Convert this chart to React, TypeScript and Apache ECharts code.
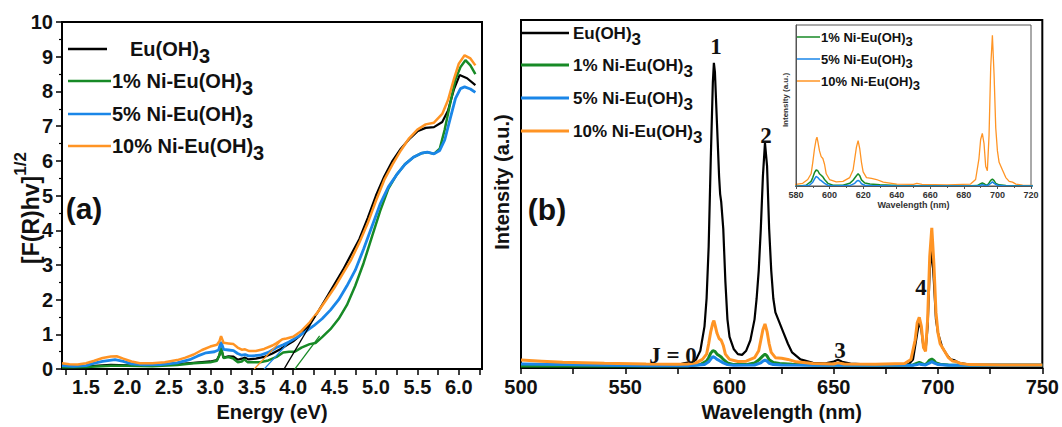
import React, { useEffect, useRef } from "react";
import * as echarts from "echarts";

// ---------- panel (a): Tauc plot, [F(R)hv]^1/2 vs energy (eV) ----------
const energyPure: number[][] = [
  [1.21, 0.1], [1.5, 0.08], [1.8, 0.12], [2.1, 0.1], [2.5, 0.12], [2.8, 0.18], [3.0, 0.22],
  [3.08, 0.26], [3.11, 0.4], [3.13, 0.6], [3.16, 0.33], [3.22, 0.37], [3.28, 0.36], [3.33, 0.27],
  [3.38, 0.3], [3.42, 0.33], [3.46, 0.28], [3.55, 0.3], [3.65, 0.35], [3.75, 0.45], [3.85, 0.58],
  [3.93, 0.7], [4.0, 0.8], [4.1, 1.0], [4.2, 1.3], [4.3, 1.65], [4.4, 2.05], [4.5, 2.45],
  [4.6, 2.85], [4.7, 3.3], [4.8, 3.75], [4.9, 4.35], [5.0, 5.0], [5.1, 5.55], [5.2, 6.0],
  [5.3, 6.35], [5.4, 6.62], [5.5, 6.85], [5.6, 6.95], [5.7, 6.97], [5.8, 7.12], [5.87, 7.45],
  [5.94, 8.05], [6.01, 8.47], [6.1, 8.38], [6.2, 8.18],
];
const energyNi1: number[][] = [
  [1.21, 0.05], [1.5, 0.06], [1.8, 0.1], [2.0, 0.1], [2.3, 0.08], [2.6, 0.12], [2.8, 0.17],
  [3.0, 0.2], [3.08, 0.24], [3.11, 0.4], [3.13, 0.62], [3.16, 0.32], [3.22, 0.35], [3.28, 0.3],
  [3.33, 0.2], [3.38, 0.22], [3.41, 0.28], [3.45, 0.2], [3.5, 0.2], [3.6, 0.2], [3.7, 0.25],
  [3.8, 0.35], [3.88, 0.48], [3.95, 0.5], [4.02, 0.5], [4.1, 0.62], [4.2, 0.72], [4.27, 0.75],
  [4.35, 0.92], [4.45, 1.15], [4.55, 1.45], [4.65, 1.85], [4.75, 2.4], [4.85, 3.05], [4.95, 3.8],
  [5.05, 4.55], [5.15, 5.2], [5.25, 5.6], [5.35, 5.9], [5.45, 6.1], [5.55, 6.22], [5.62, 6.25],
  [5.7, 6.2], [5.77, 6.35], [5.83, 6.9], [5.9, 7.7], [5.96, 8.35], [6.02, 8.7], [6.08, 8.9],
  [6.14, 8.75], [6.2, 8.5],
];
const energyNi5: number[][] = [
  [1.21, 0.1], [1.35, 0.08], [1.5, 0.1], [1.6, 0.17], [1.7, 0.22], [1.85, 0.27], [1.95, 0.22],
  [2.05, 0.15], [2.2, 0.12], [2.4, 0.13], [2.6, 0.18], [2.75, 0.27], [2.85, 0.38], [2.95, 0.47],
  [3.05, 0.5], [3.1, 0.55], [3.13, 0.78], [3.16, 0.57], [3.22, 0.55], [3.28, 0.53], [3.33, 0.45],
  [3.38, 0.4], [3.42, 0.42], [3.46, 0.38], [3.5, 0.38], [3.6, 0.4], [3.7, 0.48], [3.8, 0.62],
  [3.88, 0.7], [3.95, 0.78], [4.05, 0.92], [4.15, 1.08], [4.25, 1.25], [4.35, 1.45], [4.45, 1.7],
  [4.55, 2.0], [4.65, 2.4], [4.75, 2.85], [4.85, 3.45], [4.95, 4.1], [5.05, 4.75], [5.15, 5.25],
  [5.25, 5.6], [5.35, 5.9], [5.45, 6.1], [5.55, 6.22], [5.62, 6.25], [5.7, 6.2], [5.77, 6.3],
  [5.83, 6.6], [5.9, 7.25], [5.96, 7.8], [6.02, 8.08], [6.07, 8.13], [6.14, 8.07], [6.2, 7.97],
];
const energyNi10: number[][] = [
  [1.21, 0.17], [1.3, 0.14], [1.4, 0.13], [1.5, 0.17], [1.6, 0.24], [1.7, 0.32], [1.8, 0.36],
  [1.87, 0.37], [1.95, 0.3], [2.05, 0.22], [2.15, 0.17], [2.3, 0.17], [2.45, 0.2], [2.6, 0.26],
  [2.7, 0.33], [2.8, 0.42], [2.9, 0.55], [3.0, 0.65], [3.08, 0.7], [3.11, 0.8], [3.13, 0.95],
  [3.16, 0.76], [3.22, 0.74], [3.28, 0.72], [3.33, 0.62], [3.38, 0.56], [3.42, 0.57], [3.47, 0.52],
  [3.55, 0.52], [3.65, 0.58], [3.75, 0.68], [3.8, 0.75], [3.87, 0.86], [3.92, 0.88], [4.0, 0.93],
  [4.1, 1.1], [4.2, 1.35], [4.3, 1.65], [4.4, 2.0], [4.5, 2.35], [4.6, 2.75], [4.7, 3.15],
  [4.8, 3.65], [4.9, 4.2], [5.0, 4.85], [5.1, 5.45], [5.2, 5.9], [5.3, 6.3], [5.4, 6.65],
  [5.5, 6.9], [5.6, 7.05], [5.7, 7.1], [5.8, 7.35], [5.87, 7.75], [5.94, 8.35], [6.0, 8.8],
  [6.07, 9.04], [6.14, 8.95], [6.2, 8.75],
];
// band-gap extrapolation lines (x-intercept to the absorption edge)
const tangentPure: number[][] = [[3.89, 0], [4.27, 1.53]];
const tangentNi1: number[][] = [[4.02, 0], [4.32, 0.96]];
const tangentNi5: number[][] = [[3.65, 0], [3.95, 0.78]];
const tangentNi10: number[][] = [[3.53, 0], [3.87, 0.86]];

const energyTicks = [1.25, 1.5, 1.75, 2.0, 2.25, 2.5, 2.75, 3.0, 3.25, 3.5, 3.75, 4.0, 4.25, 4.5, 4.75, 5.0, 5.25, 5.5, 5.75, 6.0, 6.25];
const energyLabels = [1.5, 2.0, 2.5, 3.0, 3.5, 4.0, 4.5, 5.0, 5.5, 6.0];

// ---------- panel (b): emission spectra, intensity vs wavelength (nm) ----------
const wavePure: number[][] = [
  [500, 1.0], [520, 0.9], [540, 0.8], [560, 0.8], [575, 0.9], [578, 1.4], [580, 1.6], [582, 1.5],
  [584, 2.5], [586, 5], [588, 12], [589, 20], [590, 35], [591, 60], [592, 82], [592.5, 87.7],
  [593, 85], [594, 70], [595, 55], [595.5, 50], [596, 47.8], [597, 40], [598, 25], [599, 14],
  [600, 9], [602, 5.5], [604, 4], [606, 3.8], [608, 5], [610, 8], [612, 14], [613, 20], [614, 28],
  [615, 40], [616, 55], [617, 64.7], [618, 58], [619, 40], [620, 28], [621, 20], [622, 16],
  [624, 13], [626, 10], [628, 7], [630, 4.5], [634, 2.5], [640, 1.5], [646, 1.4], [650, 1.9],
  [652, 2.4], [654, 1.8], [658, 1.3], [665, 1.1], [680, 1.0], [686, 1.2], [688, 2.5], [690, 10],
  [691, 13.5], [692, 11], [693, 6], [694, 5], [695, 12], [696, 28], [697, 34.3], [698, 25],
  [699, 14], [700, 10], [702, 6], [704, 4], [706, 2.5], [708, 2.2], [710, 1.5], [715, 1.0],
  [730, 0.9], [750, 0.9],
];
const waveNi1: number[][] = [
  [500, 0.6], [540, 0.6], [580, 0.7], [586, 1], [589, 2], [590, 3], [591, 4.3], [592, 5],
  [593, 4.8], [594, 4], [595, 3.6], [596, 3.2], [597, 2.5], [599, 1.5], [602, 1.0], [608, 1.0],
  [612, 1.5], [614, 2.3], [616, 3.5], [617, 4], [618, 3.5], [619, 2.4], [621, 1.6], [624, 1.3],
  [630, 1.1], [640, 0.9], [680, 0.8], [688, 0.9], [690, 1.4], [691, 1.6], [692, 1.4], [693, 1.1],
  [694, 1.0], [695, 1.6], [696, 2.3], [697, 2.6], [698, 2.2], [699, 1.5], [701, 1.1], [705, 0.9],
  [720, 0.8], [750, 0.8],
];
const waveNi5: number[][] = [
  [500, 1.2], [520, 1.0], [540, 0.8], [560, 0.7], [580, 0.7], [588, 1.0], [590, 1.8], [591, 2.6],
  [592, 3.3], [593, 3], [594, 2.5], [595, 2.2], [597, 1.5], [599, 1.0], [602, 0.8], [612, 0.9],
  [615, 1.5], [616, 2.0], [617, 2.3], [618, 2], [619, 1.4], [621, 1.0], [625, 0.9], [640, 0.8],
  [688, 0.8], [690, 1.0], [691, 1.2], [692, 1.0], [694, 0.9], [696, 1.5], [697, 1.9], [698, 1.5],
  [700, 1.0], [705, 0.8], [750, 0.8],
];
const waveNi10: number[][] = [
  [500, 2.3], [510, 2.0], [520, 1.7], [540, 1.4], [560, 1.2], [575, 1.1], [580, 1.2], [584, 1.5],
  [587, 2.5], [589, 4], [590, 7], [591, 10.5], [592, 13], [592.5, 13.6], [593, 12.5], [594, 10],
  [595, 8.5], [596, 8], [597, 6.5], [598, 4], [600, 2.5], [604, 1.9], [608, 2], [612, 3], [614, 5],
  [615, 8], [616, 11], [617, 12.7], [618, 10.5], [619, 7], [620, 4.5], [622, 3], [625, 2.8],
  [628, 2.5], [632, 1.8], [640, 1.3], [650, 1.2], [652, 1.5], [655, 1.2], [670, 1.1], [684, 1.3],
  [687, 2.5], [689, 8], [690, 13], [691, 14.6], [692, 12], [693, 6], [694, 4.8], [695, 14],
  [696, 32], [697, 40.3], [698, 30], [699, 16], [700, 10], [701, 7], [703, 5], [705, 3], [707, 2],
  [709, 1.8], [711, 1.3], [715, 1.0], [730, 0.9], [750, 0.9],
];
const waveTicks = [500, 525, 550, 575, 600, 625, 650, 675, 700, 725, 750];
const waveLabels = [500, 550, 600, 650, 700, 750];

const seriesNames = ["Eu(OH)", "1% Ni-Eu(OH)", "5% Ni-Eu(OH)", "10% Ni-Eu(OH)"];
const COLORS = ["#000000", "#178a26", "#1a86e8", "#ff9424"];

const SANS = "'Liberation Sans', Arial, sans-serif";
const SERIF = "'Liberation Serif', 'Times New Roman', serif";

// legend entry: a short line plus "name" with a subscript 3
function legendEntry(x1: number, x2: number, y: number, tx: number, name: string, color: string, fs: number, drop: number, lw: number) {
  return [
    { type: "line", z: 20, shape: { x1, y1: y, x2, y2: y }, style: { stroke: color, lineWidth: lw } },
    {
      type: "text", z: 20, x: tx, y: y - fs / 2,
      style: {
        text: `{m|${name}}{s|3}`, align: "left", verticalAlign: "top", fill: "#111",
        rich: {
          m: { fontSize: fs, fontWeight: "bold", fontFamily: SANS, lineHeight: fs, verticalAlign: "top", fill: "#111" },
          s: { fontSize: fs, fontWeight: "bold", fontFamily: SANS, lineHeight: fs + 2 * drop, verticalAlign: "middle", fill: "#111" },
        },
      },
    },
  ];
}

function label(x: number, y: number, text: string, fs: number, family: string, rotation = 0, fill = "#111") {
  return {
    type: "text", z: 20, x, y, rotation,
    style: { text, fontSize: fs, fontWeight: "bold", fontFamily: family, fill, align: "center", verticalAlign: "middle" },
  };
}

export default function App() {
  const ref = useRef<HTMLDivElement>(null);

  useEffect(() => {
    if (!ref.current) return;
    const chart = echarts.init(ref.current, undefined, { renderer: "svg" });

    const axisText = { fontSize: 20, fontWeight: "bold", color: "#111", fontFamily: SANS };
    const line = (name: string, data: number[][], color: string, width: number, xi: number, yi: number, z = 2) => ({
      type: "line", name, data, xAxisIndex: xi, yAxisIndex: yi, showSymbol: false, symbol: "none",
      lineStyle: { color, width }, itemStyle: { color }, z, silent: true,
    });

    const graphics: any[] = [
      // panel (a) legend
      ...legendEntry(68, 107, 49, 130, seriesNames[0], COLORS[0], 20, 7, 2.5),
      ...legendEntry(68, 111, 81, 112, seriesNames[1], COLORS[1], 20, 7, 2.5),
      ...legendEntry(68, 111, 114, 112, seriesNames[2], COLORS[2], 20, 7, 2.5),
      ...legendEntry(68, 111, 146, 112, seriesNames[3], COLORS[3], 20, 7, 2.5),
      // panel (b) legend
      ...legendEntry(521, 569, 33, 573, seriesNames[0], COLORS[0], 17, 6, 2.5),
      ...legendEntry(521, 569, 65, 573, seriesNames[1], COLORS[1], 17, 6, 3),
      ...legendEntry(521, 569, 98, 573, seriesNames[2], COLORS[2], 17, 6, 3),
      ...legendEntry(521, 569, 131, 573, seriesNames[3], COLORS[3], 17, 6, 3),
      // inset legend
      ...legendEntry(797, 820, 37, 821, seriesNames[1], COLORS[1], 13, 4, 1.5),
      ...legendEntry(797, 820, 59, 821, seriesNames[2], COLORS[2], 13, 4, 1.5),
      ...legendEntry(797, 820, 81, 821, seriesNames[3], COLORS[3], 13, 4, 1.5),
      // panel tags and transition labels
      label(84, 208, "(a)", 30, SANS),
      label(547, 209, "(b)", 30, SANS),
      label(716, 46, "1", 23, SERIF),
      label(766, 135, "2", 23, SERIF),
      label(840, 350, "3", 23, SERIF),
      label(921, 287, "4", 23, SERIF),
      label(673, 355, "J = 0", 23, SERIF),
      // y-axis titles
      {
        type: "text", z: 20, x: 27, y: 208, rotation: Math.PI / 2,
        style: {
          text: "{m|[F(R)hv]}{p|1/2}", align: "center", verticalAlign: "middle", fill: "#111",
          rich: {
            m: { fontSize: 23, fontWeight: "bold", fontFamily: SANS, lineHeight: 30, verticalAlign: "bottom", fill: "#111" },
            p: { fontSize: 17, fontWeight: "bold", fontFamily: SANS, lineHeight: 17, verticalAlign: "top", fill: "#111" },
          },
        },
      },
      label(502, 182, "Intensity (a.u.)", 20, SANS, Math.PI / 2),
      label(785, 100, "Intensity (a.u.)", 8, SANS, Math.PI / 2, "#333"),
    ];

    const option: any = {
      animation: false,
      backgroundColor: "#fff",
      grid: [
        { left: 62, top: 22, width: 420, height: 348, show: true, borderColor: "#000", borderWidth: 2, backgroundColor: "transparent" },
        { left: 521, top: 20, width: 523, height: 355, show: true, borderColor: "#000", borderWidth: 2, backgroundColor: "transparent" },
        { left: 796, top: 25, width: 235, height: 161, show: true, borderColor: "#555", borderWidth: 1, backgroundColor: "#fff", z: 5 },
      ],
      xAxis: [
        {
          gridIndex: 0, type: "value", min: 1.21, max: 6.28,
          axisLine: { lineStyle: { color: "#000", width: 2 } },
          axisTick: { length: 6, lineStyle: { color: "#000", width: 1.5 }, customValues: energyTicks },
          axisLabel: { ...axisText, margin: 8, customValues: energyLabels, formatter: (v: number) => v.toFixed(1) },
          splitLine: { show: false },
          name: "Energy (eV)", nameLocation: "middle", nameGap: 31, nameTextStyle: axisText,
        },
        {
          gridIndex: 1, type: "value", min: 500, max: 750,
          axisLine: { lineStyle: { color: "#000", width: 2 } },
          axisTick: { length: 6, lineStyle: { color: "#000", width: 1.5 }, customValues: waveTicks },
          axisLabel: { ...axisText, margin: 9, customValues: waveLabels },
          splitLine: { show: false },
          name: "Wavelength (nm)", nameLocation: "middle", nameGap: 28, nameTextStyle: axisText,
        },
        {
          gridIndex: 2, type: "value", min: 580, max: 720, interval: 20, z: 7,
          axisLine: { lineStyle: { color: "#555", width: 1 } },
          axisTick: { length: 3, lineStyle: { color: "#555", width: 1 } },
          minorTick: { show: true, splitNumber: 2, length: 2, lineStyle: { color: "#555" } },
          axisLabel: { fontSize: 9, fontWeight: "bold", color: "#333", fontFamily: SANS, margin: 4 },
          splitLine: { show: false },
          name: "Wavelength (nm)", nameLocation: "middle", nameGap: 14,
          nameTextStyle: { fontSize: 9, fontWeight: "bold", color: "#333", fontFamily: SANS },
        },
      ],
      yAxis: [
        {
          gridIndex: 0, type: "value", min: 0, max: 10, interval: 1,
          axisLine: { lineStyle: { color: "#000", width: 2 } },
          axisTick: { length: 6, lineStyle: { color: "#000", width: 1.5 } },
          minorTick: { show: true, splitNumber: 2, length: 3, lineStyle: { color: "#000", width: 1.2 } },
          axisLabel: { ...axisText, margin: 9 },
          splitLine: { show: false },
        },
        {
          gridIndex: 1, type: "value", min: 0, max: 100,
          axisLine: { show: true, lineStyle: { color: "#000", width: 2 } },
          axisTick: { show: false }, axisLabel: { show: false }, splitLine: { show: false },
        },
        {
          gridIndex: 2, type: "value", min: 0.8, max: 43, z: 7,
          axisLine: { show: true, lineStyle: { color: "#555", width: 1 } },
          axisTick: { show: false }, axisLabel: { show: false }, splitLine: { show: false },
        },
      ],
      series: [
        // panel (a)
        line("a0", energyPure, COLORS[0], 2.2, 0, 0),
        line("a1", energyNi1, COLORS[1], 2.5, 0, 0),
        line("a2", energyNi5, COLORS[2], 2.8, 0, 0),
        line("a3", energyNi10, COLORS[3], 2.5, 0, 0),
        line("t0", tangentPure, COLORS[0], 1.3, 0, 0),
        line("t1", tangentNi1, COLORS[1], 1.3, 0, 0),
        line("t2", tangentNi5, COLORS[2], 1.3, 0, 0),
        line("t3", tangentNi10, COLORS[3], 1.3, 0, 0),
        // panel (b)
        line("b0", wavePure, COLORS[0], 2.2, 1, 1),
        line("b1", waveNi1, COLORS[1], 3, 1, 1),
        line("b2", waveNi5, COLORS[2], 3, 1, 1),
        line("b3", waveNi10, COLORS[3], 3, 1, 1),
        // inset
        line("i3", waveNi10, COLORS[3], 1.3, 2, 2, 6),
        line("i1", waveNi1, COLORS[1], 1.5, 2, 2, 6),
        line("i2", waveNi5, COLORS[2], 1.5, 2, 2, 6),
      ],
      graphic: graphics,
    };

    chart.setOption(option);
    return () => chart.dispose();
  }, []);

  return <div ref={ref} style={{ position: "absolute", left: 0, top: 0, width: 1062, height: 427 }} />;
}
